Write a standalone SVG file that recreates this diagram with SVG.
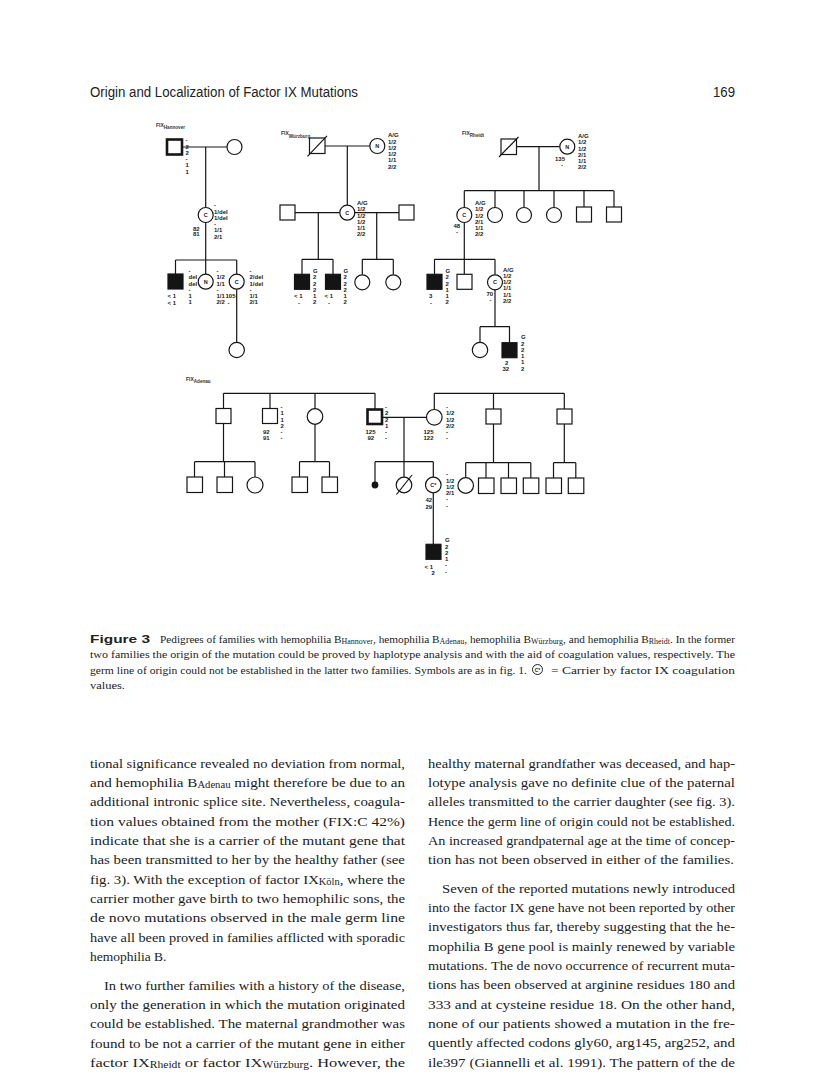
<svg xmlns="http://www.w3.org/2000/svg" width="816" height="1081" viewBox="0 0 816 1081">
<style>
.ln{stroke:#161616;stroke-width:1.2;fill:none}
.sym{fill:#fff;stroke:#161616;stroke-width:1.2}
.aff{fill:#141414;stroke:#141414;stroke-width:1.2}
.thick{stroke-width:2.6}
.lab{font-family:"Liberation Sans",Arial,sans-serif;font-weight:bold;font-size:6px;fill:#1a1a1a}
.in{font-family:"Liberation Sans",Arial,sans-serif;font-weight:bold;font-size:5.5px;fill:#1a1a1a;text-anchor:middle}
.fix{font-family:"Liberation Sans",Arial,sans-serif;font-weight:bold;font-size:5px;fill:#333}
.body{font-family:"Liberation Serif","Times New Roman",serif;font-size:13.5px;fill:#222}
.cap{font-family:"Liberation Serif","Times New Roman",serif;font-size:10.6px;fill:#222}
.head{font-family:"Liberation Sans",Arial,sans-serif;font-size:14px;fill:#222}
</style>
<rect width="816" height="1081" fill="#fff"/>

<text class="head" x="90" y="97" textLength="268" lengthAdjust="spacingAndGlyphs">Origin and Localization of Factor IX Mutations</text>
<text class="head" x="713" y="97" textLength="22" lengthAdjust="spacingAndGlyphs">169</text>

<!-- family labels -->
<text class="fix" x="156" y="126.5">FIX<tspan font-size="4.6" dy="2.5">Hannover</tspan></text>
<text class="fix" x="281" y="135">FIX<tspan font-size="4.6" dy="2.5">Würzburg</tspan></text>
<text class="fix" x="462" y="135">FIX<tspan font-size="4.6" dy="2">Rheidt</tspan></text>
<text class="fix" x="186" y="380.5">FIX<tspan font-size="4.6" dy="2">Adenau</tspan></text>

<g id="connectors">
<!-- Hannover -->
<path class="ln" d="M182,147H227 M205.7,147V207.5 M205.7,222.5V260 M175.5,260H236.7 M175.5,260V274 M205.7,260V274.2 M236.7,260V274.2 M236.7,289.2V342.5"/>
<!-- Wurzburg -->
<path class="ln" d="M325,146H369.8 M347.3,146V205.2 M295,212.7H339.8 M354.8,212.7H399 M318.3,212.7V259.3 M302,259.3H333 M302,259.3V274.3 M333,259.3V274.3 M376.7,212.7V259.3 M362.3,259.3H393.3 M362.3,259.3V274.8 M393.3,259.3V274.8"/>
<!-- Rheidt -->
<path class="ln" d="M516.5,146.7H559.8 M539,146.7V190.7 M464.3,190.7H613.7 M464.3,190.7V207.5 M495,190.7V207.5 M524,190.7V207.5 M554,190.7V207.5 M584,190.7V207 M614,190.7V207 M464.3,222.5V274.3 M434.5,259.3H495 M434.5,259.3V274.3 M495,259.3V274.8 M495,289.8V326.7 M480,326.7H510 M480,326.7V342.5 M509.5,326.7V342.7"/>
<!-- Adenau -->
<path class="ln" d="M223.5,393.3H375 M223.5,393.3V408.5 M270,393.3V408.5 M315,393.3V408.7 M375,393.3V409 M434.3,393.3H564.3 M434.3,393.3V409.5 M493.5,393.3V409 M564.3,393.3V409"/>
<path class="ln" d="M382.5,417.3H426.5 M404,417.3V477.2 M375,461.7H433.3 M375,461.7V482.5 M433.3,461.7V477.2 M433.3,492.8V544.3"/>
<path class="ln" d="M223.5,423.5V461.7 M194.5,461.7H255 M194.5,461.7V477 M224.5,461.7V477 M255,461.7V477 M315,424.3V461.7 M299.5,461.7H329.5 M299.5,461.7V477 M329.5,461.7V477"/>
<path class="ln" d="M493.5,424V462.7 M465.7,462.7H530.8 M465.7,462.7V477.7 M486,462.7V478 M508.5,462.7V478 M530.8,462.7V478 M564.3,424V462.7 M553.5,462.7H575.8 M553.5,462.7V478 M575.8,462.7V478"/>
</g>

<!-- ===== Hannover ===== -->
<g id="H1"><rect class="sym thick" x="167" y="139.5" width="15" height="15"/>
<text class="lab" x="185.5" y="142.2"><tspan x="185.5">-</tspan><tspan x="185.5" dy="6.3">2</tspan><tspan x="185.5" dy="6.3">2</tspan><tspan x="185.5" dy="6.3">-</tspan><tspan x="185.5" dy="6.3">1</tspan><tspan x="185.5" dy="6.3">1</tspan></text></g>
<g id="H2"><circle class="sym" cx="234.5" cy="147" r="7.5"/></g>
<g id="H3"><circle class="sym" cx="205.7" cy="215" r="7.5"/><text class="in" x="205.7" y="217">C</text>
<text class="lab" x="214" y="207.2"><tspan x="214">-</tspan><tspan x="214" dy="6.3">1/del</tspan><tspan x="214" dy="6.3">1/del</tspan><tspan x="214" dy="6.3">-</tspan><tspan x="214" dy="6.3">1/1</tspan><tspan x="214" dy="6.3">2/1</tspan></text>
<text class="lab" x="193" y="230.5">82</text><text class="lab" x="193" y="236.3">81</text></g>
<g id="H4"><rect class="aff" x="168" y="274" width="15" height="15"/>
<text class="lab" x="188.5" y="272.9"><tspan x="188.5">-</tspan><tspan x="188.5" dy="6.3">del</tspan><tspan x="188.5" dy="6.3">del</tspan><tspan x="188.5" dy="6.3">-</tspan><tspan x="188.5" dy="6.3">1</tspan><tspan x="188.5" dy="6.3">1</tspan></text>
<text class="lab" x="167.5" y="298.2">&lt; 1</text><text class="lab" x="167.5" y="304.5">&lt; 1</text></g>
<g id="H5"><circle class="sym" cx="205.7" cy="281.7" r="7.5"/><text class="in" x="205.7" y="283.7">N</text>
<text class="lab" x="216.5" y="272.9"><tspan x="216.5">-</tspan><tspan x="216.5" dy="6.3">1/2</tspan><tspan x="216.5" dy="6.3">1/1</tspan><tspan x="216.5" dy="6.3">-</tspan><tspan x="216.5" dy="6.3">1/1</tspan><tspan x="216.5" dy="6.3">2/2</tspan></text>
<text class="lab" x="225.5" y="298.2">105</text><text class="lab" x="227.5" y="304.5">-</text></g>
<g id="H6"><circle class="sym" cx="236.7" cy="281.7" r="7.5"/><text class="in" x="236.7" y="283.7">C</text>
<text class="lab" x="249.5" y="272.9"><tspan x="249.5">-</tspan><tspan x="249.5" dy="6.3">2/del</tspan><tspan x="249.5" dy="6.3">1/del</tspan><tspan x="249.5" dy="6.3">-</tspan><tspan x="249.5" dy="6.3">1/1</tspan><tspan x="249.5" dy="6.3">2/1</tspan></text></g>
<g id="H7"><circle class="sym" cx="236.7" cy="350" r="7.7"/></g>

<!-- ===== Wurzburg ===== -->
<g id="W1"><rect class="sym" x="309.5" y="138" width="15.5" height="15.5"/><path class="ln" d="M307.5,156.3L327,135.8"/></g>
<g id="W2"><circle class="sym" cx="377.3" cy="146" r="7.5"/><text class="in" x="377.3" y="148">N</text>
<text class="lab" x="388" y="137.2"><tspan x="388">A/G</tspan><tspan x="388" dy="6.3">1/2</tspan><tspan x="388" dy="6.3">1/2</tspan><tspan x="388" dy="6.3">1/2</tspan><tspan x="388" dy="6.3">1/1</tspan><tspan x="388" dy="6.3">2/2</tspan></text></g>
<g id="W3"><circle class="sym" cx="347.3" cy="212.7" r="7.5"/><text class="in" x="347.3" y="214.7">C</text>
<text class="lab" x="357" y="204.9"><tspan x="357">A/G</tspan><tspan x="357" dy="6.3">1/2</tspan><tspan x="357" dy="6.3">1/2</tspan><tspan x="357" dy="6.3">1/2</tspan><tspan x="357" dy="6.3">1/1</tspan><tspan x="357" dy="6.3">2/2</tspan></text></g>
<g id="W4"><rect class="sym" x="280" y="205" width="15" height="15"/></g>
<g id="W5"><rect class="sym" x="399" y="205" width="15" height="15"/></g>
<g id="W6"><rect class="aff" x="294.5" y="274.3" width="15" height="15"/>
<text class="lab" x="313" y="272.9"><tspan x="313">G</tspan><tspan x="313" dy="6.3">2</tspan><tspan x="313" dy="6.3">2</tspan><tspan x="313" dy="6.3">2</tspan><tspan x="313" dy="6.3">1</tspan><tspan x="313" dy="6.3">2</tspan></text>
<text class="lab" x="294" y="298.2">&lt; 1</text><text class="lab" x="298" y="304.5">-</text></g>
<g id="W7"><rect class="aff" x="325.5" y="274.3" width="15" height="15"/>
<text class="lab" x="343.5" y="272.9"><tspan x="343.5">G</tspan><tspan x="343.5" dy="6.3">2</tspan><tspan x="343.5" dy="6.3">2</tspan><tspan x="343.5" dy="6.3">2</tspan><tspan x="343.5" dy="6.3">1</tspan><tspan x="343.5" dy="6.3">2</tspan></text>
<text class="lab" x="324.5" y="298.2">&lt; 1</text><text class="lab" x="328" y="304.5">-</text></g>
<g id="W8"><circle class="sym" cx="362.3" cy="282.3" r="7.5"/></g>
<g id="W9"><circle class="sym" cx="393.3" cy="282.3" r="7.5"/></g>

<!-- ===== Rheidt ===== -->
<g id="R1"><rect class="sym" x="501" y="139" width="15.5" height="15.5"/><path class="ln" d="M499,157L518.5,137"/></g>
<g id="R2"><circle class="sym" cx="567.3" cy="146.7" r="7.5"/><text class="in" x="567.3" y="148.7">N</text>
<text class="lab" x="578" y="137.9"><tspan x="578">A/G</tspan><tspan x="578" dy="6.3">1/2</tspan><tspan x="578" dy="6.3">1/2</tspan><tspan x="578" dy="6.3">2/1</tspan><tspan x="578" dy="6.3">1/1</tspan><tspan x="578" dy="6.3">2/2</tspan></text>
<text class="lab" x="555" y="160.5">135</text><text class="lab" x="561" y="166.5">-</text></g>
<g id="R3"><circle class="sym" cx="464.3" cy="215" r="7.5"/><text class="in" x="464.3" y="217">C</text>
<text class="lab" x="475" y="204.9"><tspan x="475">A/G</tspan><tspan x="475" dy="6.3">1/2</tspan><tspan x="475" dy="6.3">1/2</tspan><tspan x="475" dy="6.3">2/1</tspan><tspan x="475" dy="6.3">1/1</tspan><tspan x="475" dy="6.3">2/2</tspan></text>
<text class="lab" x="453.5" y="228.2">48</text><text class="lab" x="456" y="234">-</text></g>
<g id="R4"><circle class="sym" cx="495" cy="215" r="7.5"/></g>
<g id="R5"><circle class="sym" cx="524" cy="215" r="7.5"/></g>
<g id="R6"><circle class="sym" cx="554" cy="215" r="7.5"/></g>
<g id="R7"><rect class="sym" x="576.5" y="207" width="15" height="15"/></g>
<g id="R8"><rect class="sym" x="606.5" y="207" width="15" height="15"/></g>
<g id="R9"><rect class="aff" x="427" y="274.3" width="15" height="15"/>
<text class="lab" x="445.5" y="272.9"><tspan x="445.5">G</tspan><tspan x="445.5" dy="6.3">2</tspan><tspan x="445.5" dy="6.3">2</tspan><tspan x="445.5" dy="6.3">1</tspan><tspan x="445.5" dy="6.3">1</tspan><tspan x="445.5" dy="6.3">2</tspan></text>
<text class="lab" x="429" y="298.2">3</text><text class="lab" x="430" y="304.5">-</text></g>
<g id="R10"><rect class="sym" x="457" y="274.3" width="15" height="15"/></g>
<g id="R11"><circle class="sym" cx="495" cy="282.3" r="7.5"/><text class="in" x="495" y="284.3">C</text>
<text class="lab" x="503" y="271.5"><tspan x="503">A/G</tspan><tspan x="503" dy="6.3">1/2</tspan><tspan x="503" dy="6.3">1/2</tspan><tspan x="503" dy="6.3">1/1</tspan><tspan x="503" dy="6.3">1/1</tspan><tspan x="503" dy="6.3">2/2</tspan></text>
<text class="lab" x="486.5" y="295.5">70</text><text class="lab" x="489.5" y="302">-</text></g>
<g id="R12"><circle class="sym" cx="480" cy="350" r="7.7"/></g>
<g id="R13"><rect class="aff" x="502" y="342.7" width="15" height="15"/>
<text class="lab" x="521" y="339.2"><tspan x="521">G</tspan><tspan x="521" dy="6.3">2</tspan><tspan x="521" dy="6.3">2</tspan><tspan x="521" dy="6.3">1</tspan><tspan x="521" dy="6.3">1</tspan><tspan x="521" dy="6.3">2</tspan></text>
<text class="lab" x="505" y="365">2</text><text class="lab" x="502.5" y="371.3">32</text></g>

<!-- ===== Adenau ===== -->
<g id="A1"><rect class="sym" x="216" y="408.5" width="15" height="15"/></g>
<g id="A2"><rect class="sym" x="262.5" y="408.5" width="15" height="15"/>
<text class="lab" x="280.5" y="408.9"><tspan x="280.5">-</tspan><tspan x="280.5" dy="6.3">1</tspan><tspan x="280.5" dy="6.3">1</tspan><tspan x="280.5" dy="6.3">2</tspan><tspan x="280.5" dy="6.3">-</tspan><tspan x="280.5" dy="6.3">-</tspan></text>
<text class="lab" x="263" y="433.9">92</text><text class="lab" x="263" y="439.5">91</text></g>
<g id="A3"><circle class="sym" cx="315" cy="416.5" r="7.8"/></g>
<g id="A4"><rect class="sym thick" x="367.5" y="409.5" width="14.5" height="14.5"/>
<text class="lab" x="385" y="408.9"><tspan x="385">-</tspan><tspan x="385" dy="6.3">2</tspan><tspan x="385" dy="6.3">2</tspan><tspan x="385" dy="6.3">1</tspan><tspan x="385" dy="6.3">-</tspan><tspan x="385" dy="6.3">-</tspan></text>
<text class="lab" x="365.5" y="433.9">125</text><text class="lab" x="367.5" y="439.5">92</text></g>
<g id="A5"><circle class="sym" cx="434.3" cy="417.3" r="7.8"/>
<text class="lab" x="446" y="408.9"><tspan x="446">-</tspan><tspan x="446" dy="6.3">1/2</tspan><tspan x="446" dy="6.3">1/2</tspan><tspan x="446" dy="6.3">2/2</tspan><tspan x="446" dy="6.3">-</tspan><tspan x="446" dy="6.3">-</tspan></text>
<text class="lab" x="423.5" y="433.9">125</text><text class="lab" x="423.5" y="439.5">122</text></g>
<g id="A6"><rect class="sym" x="486" y="409" width="15" height="15"/></g>
<g id="A7"><rect class="sym" x="557" y="409" width="15" height="15"/></g>
<g id="A8"><circle class="aff" cx="375" cy="485" r="2.8"/></g>
<g id="A9"><circle class="sym" cx="404" cy="485" r="7.8"/><path class="ln" d="M396.5,494.5L412,475"/></g>
<g id="A10"><circle class="sym" cx="433.3" cy="485" r="7.8"/><text class="in" x="433.3" y="487">C*</text>
<text class="lab" x="446" y="476.2"><tspan x="446">-</tspan><tspan x="446" dy="6.3">1/2</tspan><tspan x="446" dy="6.3">1/2</tspan><tspan x="446" dy="6.3">2/1</tspan><tspan x="446" dy="6.3">-</tspan><tspan x="446" dy="6.3">-</tspan></text>
<text class="lab" x="425.5" y="502.2">42</text><text class="lab" x="425.5" y="508.5">29</text></g>
<g id="A11"><rect class="aff" x="426" y="544.3" width="15" height="15"/>
<text class="lab" x="445" y="542.2"><tspan x="445">G</tspan><tspan x="445" dy="6.3">2</tspan><tspan x="445" dy="6.3">2</tspan><tspan x="445" dy="6.3">1</tspan><tspan x="445" dy="6.3">-</tspan><tspan x="445" dy="6.3">-</tspan></text>
<text class="lab" x="424.5" y="568.9">&lt; 1</text><text class="lab" x="431.5" y="575.2">2</text></g>
<g id="A12"><rect class="sym" x="187" y="477" width="15.5" height="15.5"/></g>
<g id="A13"><rect class="sym" x="217" y="477" width="15.5" height="15.5"/></g>
<g id="A14"><circle class="sym" cx="255" cy="485" r="8"/></g>
<g id="A15"><rect class="sym" x="292" y="477" width="15.5" height="15.5"/></g>
<g id="A16"><rect class="sym" x="322" y="477" width="15.5" height="15.5"/></g>
<g id="A17"><circle class="sym" cx="465.7" cy="485.5" r="7.8"/></g>
<g id="A18"><rect class="sym" x="478.5" y="478" width="15.5" height="15.5"/></g>
<g id="A19"><rect class="sym" x="501" y="478" width="15.5" height="15.5"/></g>
<g id="A20"><rect class="sym" x="523.3" y="478" width="15.5" height="15.5"/></g>
<g id="A21"><rect class="sym" x="546" y="478" width="15.5" height="15.5"/></g>
<g id="A22"><rect class="sym" x="568.3" y="478" width="15.5" height="15.5"/></g>

<!-- ===== Caption ===== -->
<text x="90" y="642.5" font-family="Liberation Sans,Arial,sans-serif" font-weight="bold" font-size="11" fill="#222" textLength="60" lengthAdjust="spacingAndGlyphs">Figure 3</text>
<text class="cap" x="160" y="642.5" textLength="575" lengthAdjust="spacingAndGlyphs">Pedigrees of families with hemophilia B<tspan font-size="7.5" dy="1.5">Hannover</tspan><tspan dy="-1.5">, hemophilia B</tspan><tspan font-size="7.5" dy="1.5">Adenau</tspan><tspan dy="-1.5">, hemophilia B</tspan><tspan font-size="7.5" dy="1.5">Würzburg</tspan><tspan dy="-1.5">, and hemophilia B</tspan><tspan font-size="7.5" dy="1.5">Rheidt</tspan><tspan dy="-1.5">. In the former</tspan></text>
<text class="cap" x="90" y="658" textLength="645" lengthAdjust="spacingAndGlyphs">two families the origin of the mutation could be proved by haplotype analysis and with the aid of coagulation values, respectively. The</text>
<text class="cap" x="90" y="673.5" textLength="437" lengthAdjust="spacingAndGlyphs">germ line of origin could not be established in the latter two families. Symbols are as in fig. 1.</text>
<circle cx="537.5" cy="669.5" r="5" fill="#fff" stroke="#222" stroke-width="1"/>
<text x="537.5" y="671.5" font-family="Liberation Sans,Arial,sans-serif" font-weight="bold" font-size="5" fill="#222" text-anchor="middle">C*</text>
<text class="cap" x="551" y="673.5" textLength="184" lengthAdjust="spacingAndGlyphs">= Carrier by factor IX coagulation</text>
<text class="cap" x="90" y="689" textLength="35" lengthAdjust="spacingAndGlyphs">values.</text>

<!-- ===== Body left ===== -->
<g class="body">
<text x="90" y="767.5" textLength="315" lengthAdjust="spacingAndGlyphs">tional significance revealed no deviation from normal,</text>
<text x="90" y="786.9" textLength="315" lengthAdjust="spacingAndGlyphs">and hemophilia B<tspan font-size="9.5" dy="1.5">Adenau</tspan><tspan dy="-1.5"> might therefore be due to an</tspan></text>
<text x="90" y="806.2" textLength="315" lengthAdjust="spacingAndGlyphs">additional intronic splice site. Nevertheless, coagula-</text>
<text x="90" y="825.6" textLength="315" lengthAdjust="spacingAndGlyphs">tion values obtained from the mother (FIX:C 42%)</text>
<text x="90" y="844.9" textLength="315" lengthAdjust="spacingAndGlyphs">indicate that she is a carrier of the mutant gene that</text>
<text x="90" y="864.3" textLength="315" lengthAdjust="spacingAndGlyphs">has been transmitted to her by the healthy father (see</text>
<text x="90" y="883.6" textLength="315" lengthAdjust="spacingAndGlyphs">fig. 3). With the exception of factor IX<tspan font-size="9.5" dy="1.5">Köln</tspan><tspan dy="-1.5">, where the</tspan></text>
<text x="90" y="902.9" textLength="315" lengthAdjust="spacingAndGlyphs">carrier mother gave birth to two hemophilic sons, the</text>
<text x="90" y="922.3" textLength="315" lengthAdjust="spacingAndGlyphs">de novo mutations observed in the male germ line</text>
<text x="90" y="941.6" textLength="315" lengthAdjust="spacingAndGlyphs">have all been proved in families afflicted with sporadic</text>
<text x="90" y="961">hemophilia B.</text>
<text x="104" y="989.5" textLength="301" lengthAdjust="spacingAndGlyphs">In two further families with a history of the disease,</text>
<text x="90" y="1008.9" textLength="315" lengthAdjust="spacingAndGlyphs">only the generation in which the mutation originated</text>
<text x="90" y="1028.2" textLength="315" lengthAdjust="spacingAndGlyphs">could be established. The maternal grandmother was</text>
<text x="90" y="1047.6" textLength="315" lengthAdjust="spacingAndGlyphs">found to be not a carrier of the mutant gene in either</text>
<text x="90" y="1066.9" textLength="315" lengthAdjust="spacingAndGlyphs">factor IX<tspan font-size="9.5" dy="1.5">Rheidt</tspan><tspan dy="-1.5"> or factor IX</tspan><tspan font-size="9.5" dy="1.5">Würzburg</tspan><tspan dy="-1.5">. However, the</tspan></text>
</g>

<!-- ===== Body right ===== -->
<g class="body">
<text x="428" y="767.5" textLength="307" lengthAdjust="spacingAndGlyphs">healthy maternal grandfather was deceased, and hap-</text>
<text x="428" y="786.9" textLength="307" lengthAdjust="spacingAndGlyphs">lotype analysis gave no definite clue of the paternal</text>
<text x="428" y="806.2" textLength="307" lengthAdjust="spacingAndGlyphs">alleles transmitted to the carrier daughter (see fig. 3).</text>
<text x="428" y="825.6" textLength="307" lengthAdjust="spacingAndGlyphs">Hence the germ line of origin could not be established.</text>
<text x="428" y="844.9" textLength="307" lengthAdjust="spacingAndGlyphs">An increased grandpaternal age at the time of concep-</text>
<text x="428" y="864.3" textLength="306" lengthAdjust="spacingAndGlyphs">tion has not been observed in either of the families.</text>
<text x="442" y="892.5" textLength="293" lengthAdjust="spacingAndGlyphs">Seven of the reported mutations newly introduced</text>
<text x="428" y="911.9" textLength="307" lengthAdjust="spacingAndGlyphs">into the factor IX gene have not been reported by other</text>
<text x="428" y="931.2" textLength="307" lengthAdjust="spacingAndGlyphs">investigators thus far, thereby suggesting that the he-</text>
<text x="428" y="950.6" textLength="307" lengthAdjust="spacingAndGlyphs">mophilia B gene pool is mainly renewed by variable</text>
<text x="428" y="969.9" textLength="307" lengthAdjust="spacingAndGlyphs">mutations. The de novo occurrence of recurrent muta-</text>
<text x="428" y="989.3" textLength="307" lengthAdjust="spacingAndGlyphs">tions has been observed at arginine residues 180 and</text>
<text x="428" y="1008.6" textLength="307" lengthAdjust="spacingAndGlyphs">333 and at cysteine residue 18. On the other hand,</text>
<text x="428" y="1028" textLength="307" lengthAdjust="spacingAndGlyphs">none of our patients showed a mutation in the fre-</text>
<text x="428" y="1047.3" textLength="307" lengthAdjust="spacingAndGlyphs">quently affected codons gly60, arg145, arg252, and</text>
<text x="428" y="1066.7" textLength="307" lengthAdjust="spacingAndGlyphs">ile397 (Giannelli et al. 1991). The pattern of the de</text>
</g>
</svg>
